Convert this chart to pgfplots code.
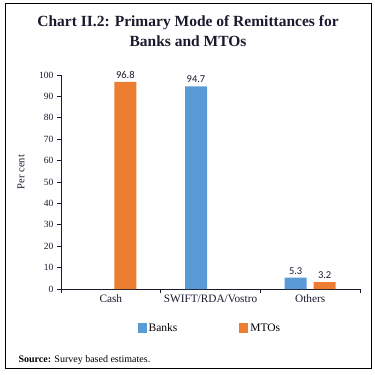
\documentclass[border=0pt]{standalone}
\usepackage{pgfplots}
\pgfplotsset{compat=1.18}
\usepackage{fontspec}
\setmainfont{Liberation Serif}
\newfontfamily\carlito{Carlito}
\definecolor{bankblue}{HTML}{5B9BD5}
\definecolor{mtoorange}{HTML}{ED7D31}
\definecolor{txt}{HTML}{1A1A2E}
\begin{document}
\begin{tikzpicture}[x=1pt,y=1pt]
\useasboundingbox (0,0) rectangle (375,-375);
\draw[line width=1pt] (5,-3) rectangle (371,-368);
\node[font=\bfseries\fontsize{15.5}{20.5}\selectfont, align=center, text=txt] at (188,-31) {Chart II.2: Primary Mode of Remittances for\\Banks and MTOs};
\node[rotate=90, font=\fontsize{10.5}{12}\selectfont, text=txt] at (21,-172) {Per cent};
\node[anchor=west, font=\fontsize{10}{12}\selectfont] at (15,-360) {\textbf{Source:} Survey based estimates.};
\begin{axis}[
  at={(61pt,-289pt)}, anchor=south west,
  width=299pt, height=214pt, scale only axis,
  xmin=-0.5, xmax=2.5, ymin=0, ymax=100,
  axis x line*=bottom, axis y line*=left,
  axis line style={line width=0.8pt, txt},
  ytick={0,10,...,100},
  yticklabel style={font=\fontsize{9.5}{11}\selectfont, text=txt},
  xtick={-0.5,0.5,1.5,2.5}, xticklabels={},
  extra x ticks={0,1,2},
  extra x tick labels={Cash,SWIFT/RDA/Vostro,Others},
  extra x tick style={major tick length=0pt, tick label style={yshift=-2pt, font=\fontsize{11.3}{13}\selectfont, text=txt}},
  tick align=outside, major tick length=4pt,
  tick style={line width=0.8pt, txt},
  /pgf/number format/assume math mode=true,
  ybar=7pt, bar width=22pt,
  nodes near coords,
  every node near coord/.append style={font=\carlito\fontsize{10.5}{12}\selectfont, text=txt},
  nodes near coords style={/pgf/number format/.cd, fixed, fixed zerofill, precision=1},
  legend columns=2,
  legend style={at={(0.498,-0.182)}, anchor=center, draw=none, font=\fontsize{11.5}{13}\selectfont,
    /tikz/every even column/.append style={column sep=60pt}},
  legend image code/.code={\fill[#1] (0pt,-5pt) rectangle (9pt,5pt);},
]
\addplot[fill=bankblue, draw=none] coordinates {(1,94.7) (2,5.3)};
\addplot[fill=mtoorange, draw=none] coordinates {(0,96.8) (2,3.2)};
\legend{Banks,MTOs}
\end{axis}
\end{tikzpicture}
\end{document}
